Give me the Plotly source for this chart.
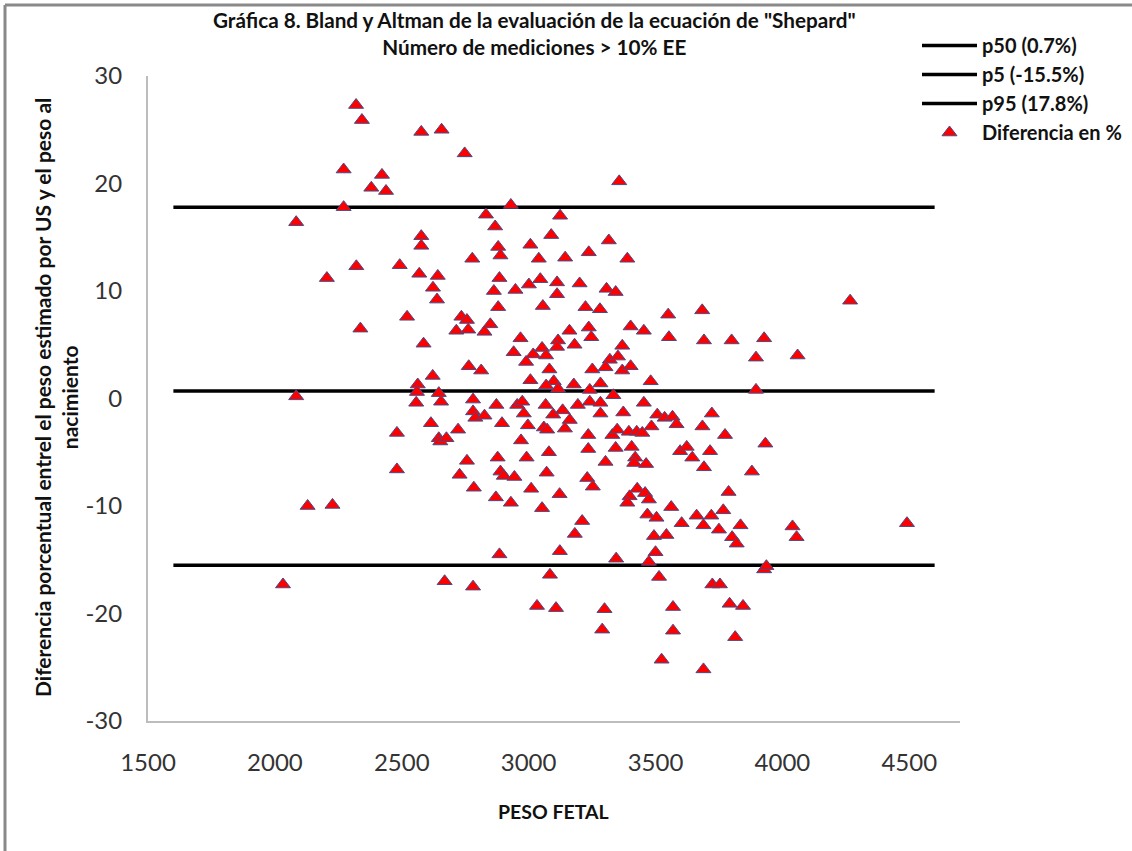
import plotly.graph_objects as go

# Peso fetal estimado (g) y diferencia porcentual frente al peso al nacimiento
peso_fetal = [
    2320, 2343, 2271, 2422, 2380, 2438, 2271, 2084, 2321, 2205, 2492, 2521, 2337, 2084,
    2481, 2481, 2129, 2227, 2032,
    2577, 2657, 2748, 3357, 2930, 2832, 3124, 2868, 2577, 2577, 3089, 3007, 3316, 2880,
    2889, 3237, 2778, 3040, 3144, 2569, 2642, 2623, 2639, 2885, 2863, 2948, 3001, 3046,
    3112, 3112, 3201, 3307, 3343, 2880, 3056, 3224, 3281, 2735, 2757, 2715, 2762, 2849,
    2826, 3161, 3237, 3247, 2586, 2968, 2941, 3116, 3112, 3181, 3018, 3053, 3069, 2990,
    2764, 2813, 2622, 3082, 3007, 3251, 3320, 3303, 3283, 3178, 3099, 3116, 3069, 3241,
    2563, 2560, 2646,
    2557, 2655, 2781, 2873, 2955, 2975, 3067, 3194, 3241, 3283, 2781, 2790, 2826, 2981,
    3097, 3134, 3162, 3283, 2615, 2722, 2895, 2997, 3060, 3073, 3143, 2646, 2652, 2676,
    2970, 3235, 3235, 3330, 3343, 2757, 2878, 2992, 3080, 3303, 2728, 2889, 2902, 2944,
    3071, 3231, 3253, 2784, 2871, 2930, 3010, 3122, 3053, 3211, 3182, 2885, 3123, 3345,
    2669, 2781, 3084, 3033, 3108, 3299, 3290,
    3389, 4267, 3550, 3684, 3402, 3454, 3553, 3691, 3800, 3928, 3369, 3352, 3369, 3402,
    3896, 4060, 3481, 3896, 3334, 3454, 3373, 3722,
    3507, 3536, 3567, 3583, 3349, 3395, 3426, 3448, 3484, 3685, 3774, 3933, 3406, 3420,
    3416, 3463, 3597, 3623, 3645, 3715, 3691, 3880, 3788, 3428, 3398, 3389, 3459, 3474,
    3562, 3468, 3504, 3603, 3662, 3689, 3720, 3767, 3750, 3835, 3802, 3820, 4040, 4056,
    4491, 3494, 3543, 3500, 3474, 3514, 3928, 3937, 3724, 3754, 3569, 3792, 3845, 3569,
    3814, 3524, 3689,
]
diferencia = [
    27.3, 25.9, 21.3, 20.8, 19.6, 19.3, 17.8, 16.4, 12.3, 11.2, 12.4, 7.6, 6.5, 0.2,
    -3.2, -6.6, -10.0, -9.9, -17.3,
    24.8, 25.0, 22.8, 20.2, 18.0, 17.1, 17.0, 16.0, 15.1, 14.2, 15.2, 14.3, 14.7, 14.1,
    13.3, 13.6, 13.0, 13.0, 13.1, 11.6, 11.4, 10.3, 9.2, 11.2, 10.0, 10.1, 10.6, 11.1,
    10.8, 9.7, 10.7, 10.2, 9.9, 8.5, 8.6, 8.5, 8.3, 7.6, 7.3, 6.3, 6.4, 6.9,
    6.2, 6.3, 6.6, 5.7, 5.1, 5.6, 4.3, 5.4, 4.8, 5.0, 4.1, 4.7, 4.0, 3.4,
    3.0, 2.6, 2.1, 2.7, 1.7, 2.7, 3.6, 2.9, 1.4, 1.3, 1.6, 0.9, 1.2, 0.8,
    1.3, 0.6, 0.5,
    -0.4, -0.3, -0.1, -0.6, -0.6, -0.3, -0.6, -0.6, -0.3, -0.4, -1.2, -1.8, -1.6, -1.4,
    -1.5, -1.1, -2.0, -1.4, -2.3, -2.9, -2.3, -2.5, -2.7, -2.9, -2.8, -3.7, -4.0, -3.7,
    -3.9, -3.4, -4.7, -3.4, -4.6, -5.8, -5.5, -5.5, -5.0, -5.9, -7.1, -6.8, -7.2, -7.3,
    -6.9, -7.4, -8.2, -8.3, -9.2, -9.7, -8.4, -8.9, -10.2, -11.4, -12.6, -14.5, -14.2, -14.9,
    -17.0, -17.5, -16.4, -19.3, -19.5, -19.6, -21.5,
    13.0, 9.1, 7.8, 8.2, 6.7, 6.3, 5.7, 5.4, 5.4, 5.6, 4.9, 3.9, 2.6, 3.0,
    3.8, 4.0, 1.6, 0.8, 0.3, -0.4, -1.3, -1.4,
    -1.5, -1.8, -1.7, -2.4, -2.9, -3.1, -3.1, -3.2, -2.6, -2.6, -3.4, -4.2, -4.5, -5.5,
    -6.0, -6.1, -4.9, -4.5, -5.5, -4.9, -6.4, -6.8, -8.7, -8.4, -9.1, -9.7, -8.8, -9.4,
    -10.1, -10.8, -11.1, -11.6, -10.9, -11.8, -10.9, -10.4, -12.2, -11.8, -12.9, -13.5, -11.9, -12.9,
    -11.6, -12.8, -12.7, -14.3, -15.2, -16.6, -15.9, -15.6, -17.3, -17.3, -19.4, -19.1, -19.3, -21.6,
    -22.2, -24.3, -25.2,
]

# Líneas de percentiles
percentil_nombres = ["p50 (0.7%)", "p5 (-15.5%)", "p95 (17.8%)"]
percentil_valores = [0.7, -15.5, 17.8]
linea_x = [1600, 4600]

x_ticks = [1500, 2000, 2500, 3000, 3500, 4000, 4500]
y_ticks = [-30, -20, -10, 0, 10, 20, 30]
y_tick_text = ["-30", "-20", "-10", "0", "10", "20", "30"]

W, H = 1132, 851
PL, PR, PT, PB = 148, 960, 76, 721  # plot area in pixels


def fx(p):
    return (p - PL) / (PR - PL)


def fy(p):
    return (PB - p) / (PB - PT)


FONT = "Lato, 'Open Sans', sans-serif"

fig = go.Figure()
for nombre, valor in zip(percentil_nombres, percentil_valores):
    fig.add_trace(go.Scatter(
        x=linea_x, y=[valor, valor], mode="lines", name=nombre,
        line=dict(color="black", width=3.5), hoverinfo="skip",
    ))

fig.add_trace(go.Scatter(
    x=peso_fetal, y=diferencia, mode="markers", name="Diferencia en %",
    marker=dict(symbol="triangle-up", size=13, color="#ff0000",
                line=dict(color="#4a4a86", width=1)),
))

fig.update_layout(
    width=W, height=H,
    margin=dict(l=PL, r=W - PR, t=PT, b=H - PB, pad=0, autoexpand=False),
    paper_bgcolor="white", plot_bgcolor="white",
    font=dict(family=FONT, color="#222"),
    showlegend=True,
    legend=dict(
        x=fx(917), y=fy(26), xanchor="left", yanchor="top",
        font=dict(family=FONT, size=20, color="#111", weight="bold"),
        itemwidth=55, bgcolor="rgba(0,0,0,0)", tracegroupgap=0,
    ),
    xaxis=dict(
        range=[1500, 4700], tickvals=x_ticks, showgrid=False, zeroline=False,
        showline=True, linecolor="#bdbdbd", linewidth=2,
        ticks="outside", ticklen=19, tickcolor="rgba(0,0,0,0)",
        tickfont=dict(family=FONT, size=24, color="#333"),
    ),
    yaxis=dict(
        range=[-30, 30], tickvals=y_ticks, ticktext=y_tick_text,
        showgrid=False, zeroline=False,
        showline=True, linecolor="#bdbdbd", linewidth=2,
        ticks="outside", ticklen=19, tickcolor="rgba(0,0,0,0)",
        tickfont=dict(family=FONT, size=24, color="#333"),
    ),
    shapes=[
        dict(type="line", xref="paper", yref="paper", x0=fx(5), x1=fx(5),
             y0=fy(5), y1=fy(H + 5), line=dict(color="#8a8a8a", width=3)),
        dict(type="line", xref="paper", yref="paper", x0=fx(5), x1=fx(W + 5),
             y0=fy(5), y1=fy(5), line=dict(color="#8a8a8a", width=3)),
    ],
    annotations=[
        dict(xref="paper", yref="paper", x=fx(534), y=fy(34), xanchor="center", yanchor="middle",
             showarrow=False, align="center",
             text="<b>Gráfica 8. Bland y Altman de la evaluación de la ecuación de \"Shepard\"</b>"
                  "<br><b>Número de mediciones > 10% EE</b>",
             font=dict(family=FONT, size=20.7, color="#111")),
        dict(xref="paper", yref="paper", x=fx(56), y=fy(398), xanchor="center", yanchor="middle",
             showarrow=False, textangle=-90, align="center",
             text="<b>Diferencia porcentual entrel el peso estimado por US y el peso al</b>"
                  "<br><b>nacimiento</b>",
             font=dict(family=FONT, size=21, color="#111")),
        dict(xref="paper", yref="paper", x=fx(553), y=fy(811), xanchor="center", yanchor="middle",
             showarrow=False, text="<b>PESO FETAL</b>",
             font=dict(family=FONT, size=19.5, color="#111")),
    ],
)

fig.write_html("out.html")
